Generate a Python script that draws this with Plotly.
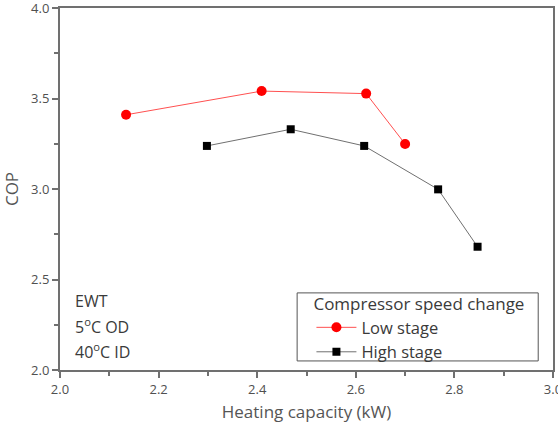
import plotly.graph_objects as go

low_x = [2.134, 2.409, 2.621, 2.700]
low_y = [3.410, 3.541, 3.527, 3.249]
high_x = [2.298, 2.468, 2.617, 2.767, 2.847]
high_y = [3.238, 3.330, 3.238, 2.998, 2.681]
x_ticks = [2.0, 2.2, 2.4, 2.6, 2.8, 3.0]
y_ticks = [2.0, 2.5, 3.0, 3.5, 4.0]

FONT = "Open Sans"
AX = "#707070"
TXT = "#3a3a3a"

fig = go.Figure()
fig.add_trace(go.Scatter(x=low_x, y=low_y, mode="lines+markers", name="Low stage",
                         line=dict(color="#ff5050", width=1),
                         marker=dict(symbol="circle", size=10, color="#ff0000")))
fig.add_trace(go.Scatter(x=high_x, y=high_y, mode="lines+markers", name="High stage",
                         line=dict(color="#707070", width=1),
                         marker=dict(symbol="square", size=8, color="#000000")))

axis_common = dict(showgrid=False, zeroline=False, showline=True, linecolor=AX, linewidth=2,
                   mirror=True, ticks="outside", tickcolor=AX, tickwidth=2, ticklen=6,
                   ticklabeloverflow="allow", automargin=False,
                   tickfont=dict(family=FONT, size=13, color="#505050"))

fig.update_xaxes(range=[2.0, 3.0], tickvals=x_ticks, ticktext=[f"{v:.1f}" for v in x_ticks],
                 title=dict(text="Heating capacity (kW)", font=dict(family=FONT, size=17, color="#555555"),
                            standoff=11),
                 minor=dict(ticks="outside", ticklen=4, tickcolor=AX, tickwidth=2, dtick=0.1, tick0=2.0),
                 **axis_common)
fig.update_yaxes(range=[2.0, 4.0], tickvals=y_ticks, ticktext=[f"{v:.1f}" for v in y_ticks],
                 title=dict(text="COP", font=dict(family=FONT, size=17, color="#555555"), standoff=18),
                 minor=dict(ticks="outside", ticklen=4, tickcolor=AX, tickwidth=2, dtick=0.25, tick0=2.0),
                 **axis_common)

for i, t in enumerate(["EWT", "5<sup>o</sup>C OD", "40<sup>o</sup>C ID"]):
    fig.add_annotation(xref="paper", yref="paper", x=0.026, y=0.19 - i * 0.069,
                       text=t, showarrow=False, xanchor="left", yanchor="middle",
                       font=dict(family=FONT, size=16, color=TXT))

# legend frame
fig.add_shape(type="rect", xref="paper", yref="paper", x0=0.481, x1=0.970, y0=0.025, y1=0.213,
              line=dict(color="#555555", width=1), fillcolor="white", layer="above")

fig.update_layout(
    width=558, height=423,
    margin=dict(l=60, r=5, t=8, b=53),
    paper_bgcolor="white", plot_bgcolor="white",
    font=dict(family=FONT, color=TXT),
    legend=dict(x=0.51, y=0.2265, xanchor="left", yanchor="top",
                borderwidth=0, bgcolor="rgba(0,0,0,0)",
                title=dict(text="Compressor speed change", font=dict(family=FONT, size=17, color=TXT)),
                font=dict(family=FONT, size=16.5, color=TXT),
                tracegroupgap=0, itemwidth=40),
)

fig.write_html("out.html")
